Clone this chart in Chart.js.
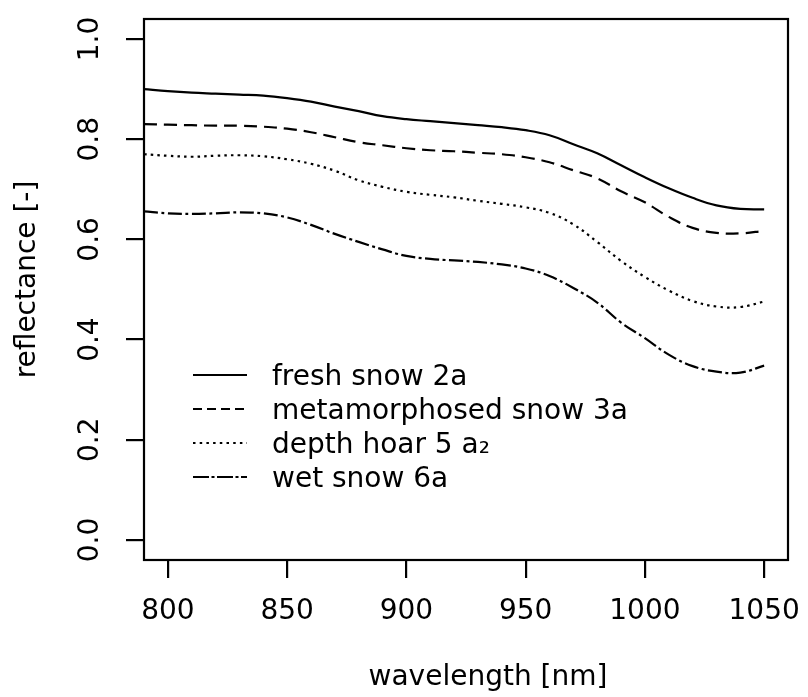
<!DOCTYPE html>
<html>
<head>
<meta charset="utf-8">
<script src="https://cdn.jsdelivr.net/npm/chart.js@4.4.1/dist/chart.umd.min.js"></script>
<style>
  html, body { margin: 0; padding: 0; background: #fff; }
  canvas { display: block; }
</style>
</head>
<body>
<canvas id="snowChart" width="808" height="697"></canvas>
<script>
// wavelength grid (nm), every 10 nm
const wavelengths = [790, 800, 810, 820, 830, 840, 850, 860, 870, 880, 890, 900, 910, 920,
  930, 940, 950, 960, 970, 980, 990, 1000, 1010, 1020, 1030, 1040, 1050];

// reflectance per snow type
const freshSnow = [0.900, 0.896, 0.893, 0.891, 0.889, 0.887, 0.882, 0.875, 0.865, 0.856, 0.846,
  0.840, 0.836, 0.832, 0.828, 0.824, 0.818, 0.808, 0.790, 0.772, 0.748, 0.724, 0.702, 0.683,
  0.668, 0.661, 0.660];
const metamorphosedSnow = [0.830, 0.829, 0.828, 0.827, 0.827, 0.825, 0.821, 0.814, 0.804, 0.794,
  0.788, 0.782, 0.778, 0.776, 0.773, 0.770, 0.764, 0.754, 0.738, 0.722, 0.696, 0.674, 0.645,
  0.623, 0.613, 0.612, 0.617];
const depthHoar = [0.770, 0.767, 0.765, 0.767, 0.768, 0.766, 0.760, 0.751, 0.737, 0.718, 0.705,
  0.695, 0.689, 0.684, 0.677, 0.671, 0.664, 0.653, 0.630, 0.595, 0.557, 0.525, 0.498, 0.477,
  0.466, 0.465, 0.476];
const wetSnow = [0.656, 0.652, 0.651, 0.652, 0.654, 0.652, 0.644, 0.629, 0.611, 0.595, 0.580,
  0.567, 0.561, 0.558, 0.555, 0.550, 0.542, 0.527, 0.503, 0.474, 0.434, 0.403, 0.370, 0.347,
  0.336, 0.334, 0.348];

const seriesNames = ['fresh snow 2a', 'metamorphosed snow 3a', 'depth hoar 5 a\u2082', 'wet snow 6a'];
const xTicks = [800, 850, 900, 950, 1000, 1050];
const yTicks = [0, 0.2, 0.4, 0.6, 0.8, 1.0];

// line styles (solid, dashed, dotted, dot-dash)
const lineDashes = [[], [13, 7], [2.5, 4.2], [14, 3.5, 3, 3.5]];
const legendDashes = [[], [9, 5], [2.5, 4.2], [16, 2.5, 3, 2.5]];

const FONT = 'DejaVu Sans';
const FONT_SIZE = 28;
const LINE_W = 2.2;

function toPoints(values) {
  return wavelengths.map((w, i) => ({ x: w, y: values[i] }));
}

const allSeries = [freshSnow, metamorphosedSnow, depthHoar, wetSnow];

// Rahmen, Achsentitel und Legende selbst zeichnen
const framePlugin = {
  id: 'frameAndText',
  afterDraw(chart) {
    const { ctx, chartArea: a } = chart;
    ctx.save();
    ctx.strokeStyle = '#000';
    ctx.lineWidth = LINE_W;
    ctx.setLineDash([]);
    ctx.strokeRect(a.left, a.top, a.right - a.left, a.bottom - a.top);

    ctx.fillStyle = '#000';
    ctx.font = FONT_SIZE + 'px "' + FONT + '"';
    ctx.textAlign = 'center';
    ctx.textBaseline = 'alphabetic';
    ctx.fillText('wavelength [nm]', (a.left + a.right) / 2 + 22, 685);

    ctx.save();
    ctx.translate(35, (a.top + a.bottom) / 2 - 10);
    ctx.rotate(-Math.PI / 2);
    ctx.fillText('reflectance [-]', 0, 0);
    ctx.restore();

    // legend
    const x0 = 193, x1 = 247, textX = 272;
    ctx.textAlign = 'left';
    seriesNames.forEach((name, i) => {
      const y = 375 + i * 34;
      ctx.setLineDash(legendDashes[i]);
      ctx.beginPath();
      ctx.moveTo(x0, y);
      ctx.lineTo(x1, y);
      ctx.stroke();
      ctx.fillText(name, textX, y + 10);
    });
    ctx.restore();
  }
};

const ctx = document.getElementById('snowChart').getContext('2d');
const snowChart = new Chart(ctx, {
  type: 'line',
  data: {
    datasets: allSeries.map((values, i) => ({
      label: seriesNames[i],
      data: toPoints(values),
      borderColor: '#000',
      borderWidth: LINE_W,
      borderDash: lineDashes[i],
      pointRadius: 0,
      tension: 0.4,
      fill: false,
    })),
  },
  options: {
    responsive: false,
    animation: false,
    devicePixelRatio: 1,
    layout: { padding: { left: 0, top: 19, right: 20, bottom: 0 } },
    plugins: {
      legend: { display: false },
      tooltip: { enabled: false },
    },
    scales: {
      x: {
        type: 'linear',
        min: 790,
        max: 1060,
        afterBuildTicks: s => { s.ticks = xTicks.map(v => ({ value: v })); },
        afterFit: s => { s.height = 137; s.paddingLeft = 0; s.paddingRight = 0; },
        border: { display: false },
        grid: { drawOnChartArea: false, drawTicks: true, tickLength: 18, color: '#000', lineWidth: LINE_W },
        ticks: {
          color: '#000',
          font: { family: FONT, size: FONT_SIZE },
          padding: 17,
          maxRotation: 0,
          autoSkip: false,
          callback: v => String(v),
        },
      },
      y: {
        type: 'linear',
        min: -0.04,
        max: 1.04,
        afterBuildTicks: s => { s.ticks = yTicks.map(v => ({ value: v })); },
        afterFit: s => { s.width = 144; s.paddingTop = 0; s.paddingBottom = 0; },
        border: { display: false },
        grid: { drawOnChartArea: false, drawTicks: true, tickLength: 18, color: '#000', lineWidth: LINE_W },
        ticks: {
          color: '#000',
          font: { family: FONT, size: FONT_SIZE },
          padding: 13,
          minRotation: 90,
          maxRotation: 90,
          crossAlign: 'center',
          autoSkip: false,
          callback: v => v.toFixed(1),
        },
      },
    },
  },
  plugins: [framePlugin],
});
</script>
</body>
</html>
